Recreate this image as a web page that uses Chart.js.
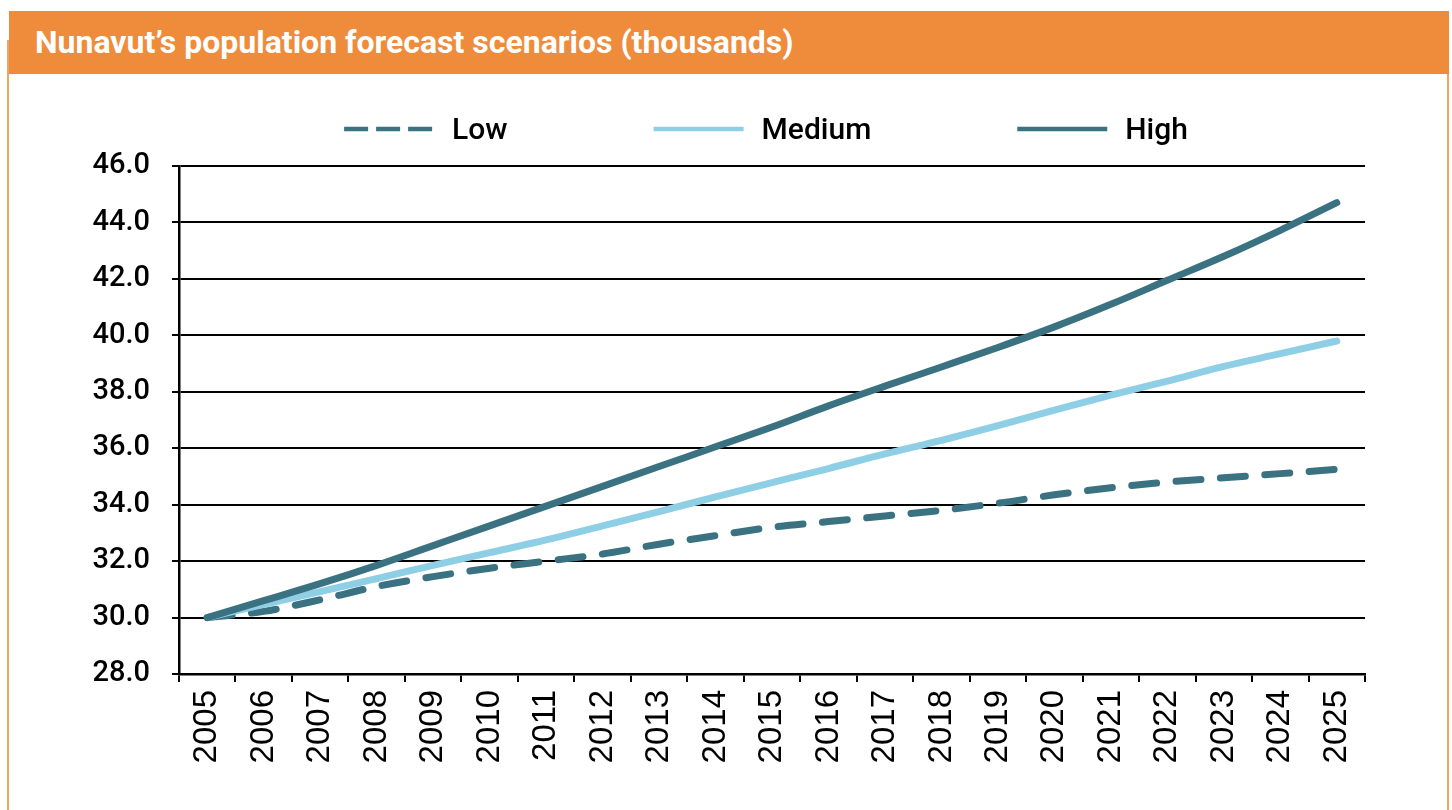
<!DOCTYPE html>
<html>
<head>
<meta charset="utf-8">
<title>Nunavut population forecast scenarios</title>
<script src="https://cdn.jsdelivr.net/npm/chart.js@4/dist/chart.umd.min.js"></script>
<style>
  html, body { margin: 0; padding: 0; background: #fff; width: 1452px; height: 810px; overflow: hidden; }
  #wrap { position: relative; width: 1452px; height: 810px; }
  #chart { position: absolute; left: 0; top: 0; }
  .edge { position: absolute; top: 40px; bottom: 0; width: 2px; background: #F0A464; }
  #edgeL { left: 7px; }
  #edgeR { left: 1447px; }
  #header { position: absolute; left: 9px; top: 11px; width: 1440px; height: 63px; background: #EE8C3B; }
  #header h1 { position: absolute; left: 26px; top: 0; margin: 0; color: #fff; font: 700 32px Roboto, sans-serif;
               line-height: 63px; white-space: nowrap; transform: scaleX(1.0); transform-origin: 0 50%; }
</style>
</head>
<body>
<div id="wrap">
  <canvas id="chart" width="1452" height="810"></canvas>
  <div class="edge" id="edgeL"></div>
  <div class="edge" id="edgeR"></div>
  <div id="header"><h1>Nunavut’s population forecast scenarios (thousands)</h1></div>
</div>
<script>
// Forecast years
const years = ['2005', '2006', '2007', '2008', '2009', '2010', '2011', '2012', '2013', '2014', '2015',
               '2016', '2017', '2018', '2019', '2020', '2021', '2022', '2023', '2024', '2025'];

// Population in thousands, by scenario
const lowValues    = [30.0, 30.22, 30.63, 31.1, 31.45, 31.75, 32.0, 32.25, 32.6, 32.9, 33.2,
                      33.4, 33.6, 33.8, 34.05, 34.35, 34.6, 34.8, 34.95, 35.1, 35.25];
const mediumValues = [30.0, 30.47, 30.92, 31.38, 31.85, 32.3, 32.75, 33.25, 33.75, 34.28, 34.78,
                      35.28, 35.8, 36.28, 36.8, 37.35, 37.88, 38.38, 38.9, 39.35, 39.8];
const highValues   = [30.0, 30.6, 31.2, 31.85, 32.55, 33.25, 33.95, 34.65, 35.35, 36.05, 36.75,
                      37.5, 38.2, 38.88, 39.57, 40.3, 41.1, 41.95, 42.8, 43.72, 44.7];

const seriesNames = ['Low', 'Medium', 'High'];

// Value axis range and tick labels
const yMin = 28, yMax = 46, yStep = 2;
const yTickLabels = ['28.0', '30.0', '32.0', '34.0', '36.0', '38.0', '40.0', '42.0', '44.0', '46.0'];

const TEAL = '#3A7282';
const SKY = '#8ECFE6';

// Key above the plot: a line sample followed by the series name
const seriesKey = {
  id: 'seriesKey',
  afterDraw(chart) {
    const ctx = chart.ctx;
    const area = chart.chartArea;
    const sampleW = 90, textGap = 18, itemGap = 146, y = 129;
    ctx.save();
    ctx.font = '500 30px Roboto, sans-serif';
    ctx.textBaseline = 'middle';
    const items = chart.data.datasets.map(ds => ({
      text: ds.label, color: ds.borderColor, dash: ds.keyDash || [],
      w: sampleW + textGap + ctx.measureText(ds.label).width
    }));
    const total = items.reduce((s, it) => s + it.w, 0) + itemGap * (items.length - 1);
    let x = (area.left + area.right) / 2 - total / 2 - 6;
    items.forEach(it => {
      ctx.beginPath();
      ctx.setLineDash(it.dash);
      ctx.lineWidth = 4.5;
      ctx.lineCap = 'butt';
      ctx.strokeStyle = it.color;
      ctx.moveTo(x, y);
      ctx.lineTo(x + sampleW, y);
      ctx.stroke();
      ctx.setLineDash([]);
      ctx.fillStyle = '#000';
      ctx.fillText(it.text, x + sampleW + textGap, y + 2);
      x += it.w + itemGap;
    });
    ctx.restore();
  }
};

const lineStyle = { borderWidth: 7, pointRadius: 0, pointHoverRadius: 0,
                    cubicInterpolationMode: 'monotone',
                    borderCapStyle: 'round', borderJoinStyle: 'round', fill: false };

new Chart(document.getElementById('chart'), {
  type: 'line',
  data: {
    labels: years,
    datasets: [
      Object.assign({ label: seriesNames[0], data: lowValues, borderColor: TEAL, backgroundColor: TEAL,
        borderDash: [25, 19.5], keyDash: [24, 8], order: 3 }, lineStyle),
      Object.assign({ label: seriesNames[1], data: mediumValues, borderColor: SKY, backgroundColor: SKY,
        order: 2 }, lineStyle),
      Object.assign({ label: seriesNames[2], data: highValues, borderColor: TEAL, backgroundColor: TEAL,
        order: 1 }, lineStyle)
    ]
  },
  options: {
    responsive: false,
    animation: false,
    events: [],
    layout: { padding: { top: 166, right: 87, bottom: 0, left: 0 } },
    plugins: {
      legend: { display: false },
      title: { display: false },
      tooltip: { enabled: false }
    },
    scales: {
      x: {
        type: 'category',
        offset: true,
        grid: { display: true, offset: true, drawOnChartArea: false, drawTicks: true,
                tickLength: 8, color: '#000', lineWidth: 2 },
        border: { display: true, color: '#000', width: 2.5 },
        ticks: { minRotation: 90, maxRotation: 90, autoSkip: false, padding: 8, color: '#000',
                 font: { family: 'Liberation Sans, Arial, sans-serif', size: 33 } },
        afterFit(scale) { scale.height = 136; }
      },
      y: {
        min: yMin, max: yMax,
        ticks: { stepSize: yStep, padding: 22, color: '#000',
                 font: { family: 'Roboto, sans-serif', size: 29, weight: '500' },
                 callback: (v) => yTickLabels[Math.round((v - yMin) / yStep)] },
        grid: { color: '#000', lineWidth: 2, tickLength: 7, drawTicks: true },
        border: { display: true, color: '#000', width: 2.5 },
        afterFit(scale) { scale.width = 179; }
      }
    }
  },
  plugins: [seriesKey]
});
</script>
</body>
</html>
